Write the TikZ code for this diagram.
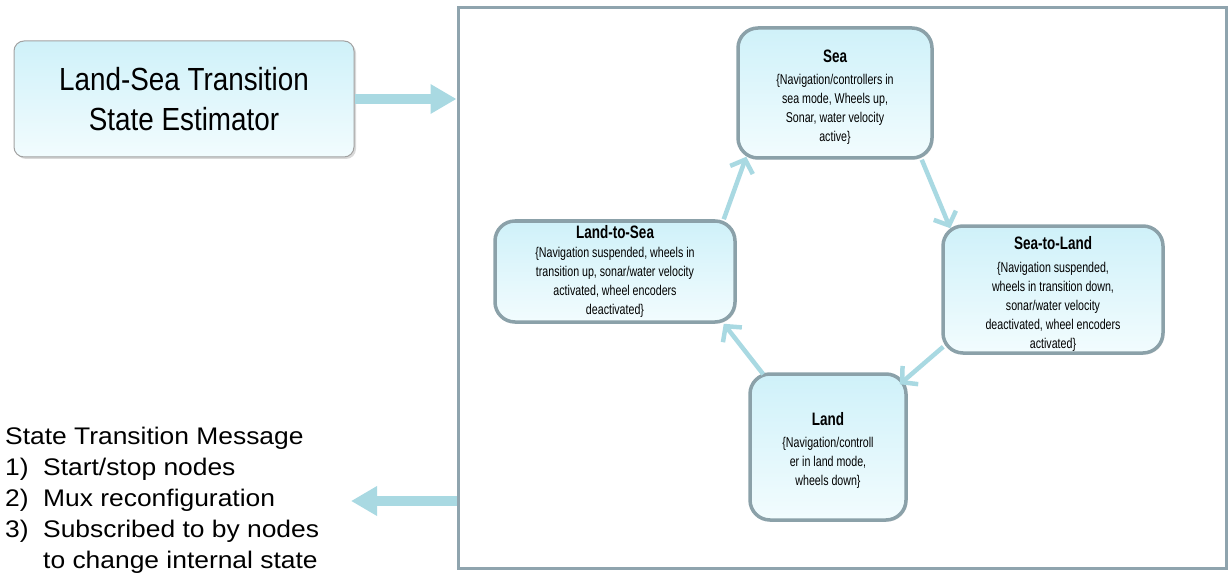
\documentclass[tikz,border=0pt]{standalone}
\usepackage{fontspec}
\setmainfont{Liberation Sans}
\newfontfamily\estfont[FakeStretch=0.87]{Liberation Sans}
\newfontfamily\msgfont[FakeStretch=1.1]{Liberation Sans}
\newfontfamily\boxfont[FakeStretch=0.75]{Liberation Sans}
\usetikzlibrary{arrows.meta,shadows,calc}

\definecolor{framegray}{HTML}{8FA4AE}
\definecolor{boxedge}{HTML}{8BA1A9}
\definecolor{boxtop}{HTML}{CFF1F9}
\definecolor{boxbottom}{HTML}{F2FCFE}
\definecolor{flowblue}{HTML}{A9D9E2}
\definecolor{estedge}{HTML}{A2A2A2}

\tikzset{
  statebox/.style={draw=boxedge, line width=3.5pt, rounded corners=20pt,
    top color=boxtop, bottom color=boxbottom, align=center, inner sep=0pt,
    drop shadow={shadow xshift=1.5pt, shadow yshift=-1.5pt, opacity=0.25, fill=gray},
    font=\boxfont\fontsize{14.2}{19}\selectfont},
  estbox/.style={draw=estedge, line width=1pt, rounded corners=10pt,
    top color=boxtop, bottom color=boxbottom, align=center, inner sep=0pt,
    drop shadow={shadow xshift=2pt, shadow yshift=-2pt, opacity=0.3, fill=gray},
    font=\estfont\fontsize{32}{40}\selectfont},
  frame/.style={draw=framegray, line width=3pt, inner sep=0pt},
  flow/.style={draw=flowblue, line width=4.5pt,
    -{Straight Barb[length=11pt,width=24pt,line width=4.5pt]}},
  bigflow/.style={draw=flowblue, line width=10.5pt,
    -{Triangle[length=26pt,width=28pt]}},
}
% state title; the optional strut height pushes the block of text down a little
\newcommand{\ttl}[2][13pt]{{\fontsize{18}{19}\selectfont\bfseries\rule{0pt}{#1}#2}}

\begin{document}
\begin{tikzpicture}[x=1pt,y=-1pt]
\useasboundingbox (0,0) rectangle (1231,580);

% outer frame of the state machine
\node[frame, minimum width=768pt, minimum height=560pt] (frame) at (842,288) {};

% estimator block
\node[estbox, minimum width=340pt, minimum height=116pt] (est) at (184,99)
  {Land-Sea Transition\\State Estimator};

% states
\node[statebox, minimum width=194pt, minimum height=130pt] (sea) at (835,93)
  {\ttl[21pt]{Sea}\\[3pt]
   \{Navigation/controllers in\\sea mode, Wheels up,\\Sonar, water velocity\\active\}};

\node[statebox, minimum width=240pt, minimum height=101pt] (ls) at (615,271.5)
  {\ttl{Land-to-Sea}\\
   \{Navigation suspended, wheels in\\transition up, sonar/water velocity\\activated, wheel encoders\\deactivated\}};

\node[statebox, minimum width=220pt, minimum height=127pt] (sl) at (1053,289.5)
  {\ttl[22pt]{Sea-to-Land}\\[4pt]
   \{Navigation suspended,\\wheels in transition down,\\sonar/water velocity\\deactivated, wheel encoders\\activated\}};

\node[statebox, minimum width=156pt, minimum height=146pt] (land) at (828,447)
  {\ttl[19pt]{Land}\\[3pt]
   \{Navigation/controll\\er in land mode,\\wheels down\}};

% transitions around the cycle
\draw[flow] ($(ls.north east)+(-13,0)$) -- ($(sea.south west)+(10,-3)$);
\draw[flow] ($(sea.south east)+(-12,0)$) -- ($(sl.north west)+(9,4)$);
\draw[flow] ($(sl.south west)+(2,-8)$) -- ($(land.north east)+(-8,12)$);
\draw[flow] ($(land.north west)+(15,2)$) -- ($(ls.south east)+(-13,0)$);

% output message
\node[anchor=north west, align=left, inner sep=0pt,
      font=\msgfont\fontsize{24}{31}\selectfont] (msg) at (5,427)
  {State Transition Message\\
   \makebox[38pt][l]{1)}Start/stop nodes\\
   \makebox[38pt][l]{2)}Mux reconfiguration\\
   \makebox[38pt][l]{3)}Subscribed to by nodes\\
   \makebox[38pt][l]{}to change internal state};

\coordinate (out) at (351,501);

% data flow in and out of the state machine
\draw[bigflow] (est.east) -- (est.east -| frame.west);
\draw[bigflow] (frame.west |- out) -- (out);
\end{tikzpicture}
\end{document}
